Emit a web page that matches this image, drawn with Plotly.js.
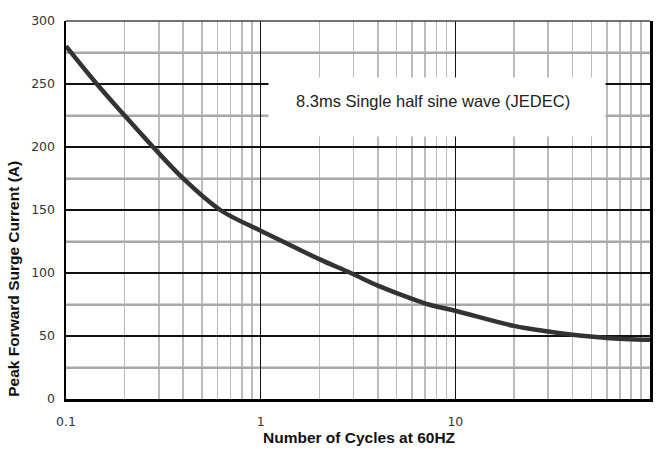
<!DOCTYPE html>
<html>
<head>
<meta charset="utf-8">
<script src="https://cdn.plot.ly/plotly-3.0.1.min.js"></script>
<style>html,body{margin:0;padding:0;background:#fff;}</style>
</head>
<body>
<div id="chart" style="width:659px;height:457px;"></div>
<script>
// Number of cycles at 60 Hz
const cycles = [0.1, 0.144, 0.2, 0.28, 0.4, 0.62, 1, 1.3, 2, 2.9, 4, 5, 6, 7.3, 10, 20, 30, 40, 60, 100];
// Peak forward surge current (A)
const current = [280, 250, 225, 200, 175, 150, 133.5, 125, 111, 100, 90, 84, 79.5, 75, 70, 58, 53.5, 51, 48.5, 47];
const xTickVals = [0.1, 1, 10, 100];
const xTickText = ['0.1', '1', '10', '100'];
const yTickVals = [0, 50, 100, 150, 200, 250, 300];
const yMinorVals = [25, 75, 125, 175, 225, 275];
const xTitle = 'Number of Cycles at 60HZ';
const yTitle = 'Peak Forward Surge Current (A)';
const noteText = '8.3ms Single half sine wave (JEDEC)';

const tickFont = {family: 'DejaVu Sans, sans-serif', size: 12.5, color: '#333'};
const titleFont = {family: 'Liberation Sans Narrow, Arial Narrow, Liberation Sans, sans-serif', size: 15.5, color: '#111', weight: 'bold'};

const data = [{
  x: cycles, y: current, type: 'scatter', mode: 'lines',
  line: {color: '#333', width: 4.5, shape: 'spline', smoothing: 1},
  hoverinfo: 'skip'
}];

const layout = {
  width: 659, height: 457,
  margin: {l: 66, r: 9, t: 21, b: 58},
  paper_bgcolor: '#fff', plot_bgcolor: '#fff',
  showlegend: false,
  xaxis: {
    type: 'log', range: [-1, 2],
    tickvals: xTickVals, ticktext: xTickText,
    showgrid: true, gridcolor: '#111', gridwidth: 1.5,
    minor: {dtick: 'D1', showgrid: true, gridcolor: '#bbb', gridwidth: 1.5, ticks: ''},
    showline: true, linecolor: '#000', linewidth: 3,
    ticks: '', tickfont: tickFont, zeroline: false, ticklabelstandoff: 9
  },
  yaxis: {
    range: [0, 300], tickmode: 'array', tickvals: yTickVals,
    showgrid: true, gridcolor: '#111', gridwidth: 1.5,
    minor: {tickmode: 'array', tickvals: yMinorVals, showgrid: true, gridcolor: '#a8a8a8', gridwidth: 2, ticks: ''},
    ticks: '', tickfont: tickFont, zeroline: false, ticklabelstandoff: 6,
    showline: true, mirror: true, linecolor: '#000', linewidth: 2.5
  },
  shapes: yMinorVals.map(v => ({
    type: 'line', xref: 'paper', yref: 'y', x0: 0, x1: 1, y0: v, y1: v,
    line: {color: '#a8a8a8', width: 2}, layer: 'below'
  })).concat([{
    type: 'line', xref: 'paper', yref: 'paper', x0: 0, x1: 1, y0: 1, y1: 1,
    line: {color: '#444', width: 1.5}, layer: 'above'
  }]),
  annotations: [{
    xref: 'paper', yref: 'paper', x: 0.635, y: 0.772, xanchor: 'center', yanchor: 'middle',
    text: ' ', showarrow: false, bgcolor: '#fff', width: 334, height: 56
  }, {
    xref: 'paper', yref: 'paper', x: 0.628, y: 0.788, xanchor: 'center', yanchor: 'middle',
    text: noteText, showarrow: false,
    font: {family: 'Liberation Sans, Arial, sans-serif', size: 16.5, color: '#222'}
  }, {
    xref: 'paper', yref: 'paper', x: 0.502, y: -0.103, xanchor: 'center', yanchor: 'middle',
    text: xTitle, showarrow: false, font: titleFont
  }, {
    xref: 'paper', yref: 'paper', x: -0.089, y: 0.318, xanchor: 'center', yanchor: 'middle',
    text: yTitle, showarrow: false, font: titleFont, textangle: -90
  }]
};

Plotly.newPlot('chart', data, layout, {staticPlot: true, displayModeBar: false});
</script>
</body>
</html>
